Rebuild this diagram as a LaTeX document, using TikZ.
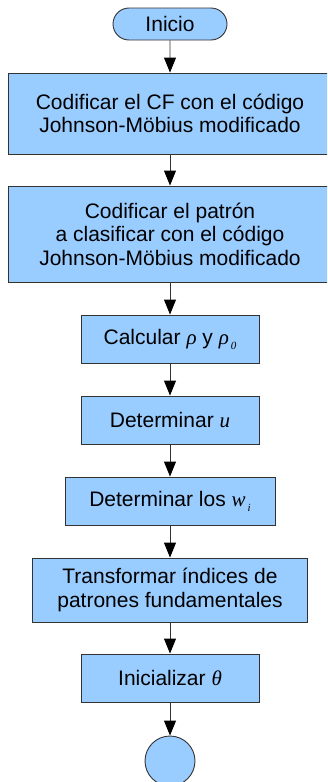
\documentclass[tikz,border=0pt]{standalone}
\usepackage{fontspec}
\setmainfont{Liberation Sans}
\newfontfamily\mserif{Liberation Serif}[ItalicFont={Liberation Serif Italic}]
\usetikzlibrary{arrows.meta,shapes.misc}
\definecolor{boxblue}{HTML}{99CCFF}
\definecolor{edgegray}{HTML}{333333}
\newcommand{\mv}[1]{{\mserif\itshape #1}}
\newcommand{\msub}[2]{{\mserif\itshape #1\kern2pt\raisebox{-5pt}{\fontsize{11}{11}\selectfont #2}}}
\begin{document}
\begin{tikzpicture}[x=1pt,y=-1pt,
  stepbox/.style={draw=edgegray, fill=boxblue, line width=0.9pt, align=center,
    inner sep=0pt, font=\fontsize{21}{23.5}\selectfont},
  term/.style={draw=edgegray, fill=boxblue, line width=0.9pt, rounded rectangle,
    inner sep=0pt, minimum width=114pt, minimum height=32pt, font=\fontsize{21}{23.5}\selectfont},
  flow/.style={-{Triangle[width=12pt,length=15pt,color=black,fill=black]}, line width=0.9pt, draw=edgegray}]
\useasboundingbox (0,0) rectangle (327,782);
\clip (0,0) rectangle (327,782);
\node[term] (ini) at (170,24) {Inicio};
\node[stepbox, minimum width=324pt, minimum height=81pt] (b1) at (170,113.5)
  {Codificar el CF con el código\\Johnson-Möbius modificado};
\node[stepbox, minimum width=324pt, minimum height=96pt] (b2) at (170,234)
  {Codificar el patrón\\a clasificar con el código\\Johnson-Möbius modificado};
\node[stepbox, minimum width=178pt, minimum height=48pt] (b3) at (170,339)
  {Calcular \mv{ρ} y \msub{ρ}{0}};
\node[stepbox, minimum width=178pt, minimum height=48pt] (b4) at (170,420)
  {Determinar \mv{u}};
\node[stepbox, minimum width=210pt, minimum height=48pt] (b5) at (170,501)
  {Determinar los \msub{w}{i}};
\node[stepbox, minimum width=275pt, minimum height=64pt] (b6) at (170,590)
  {Transformar índices de\\patrones fundamentales};
\node[stepbox, minimum width=178pt, minimum height=48pt] (b7) at (170,678)
  {Inicializar \mv{θ}};
\node[draw=edgegray, fill=boxblue, line width=0.9pt, circle, inner sep=0pt, minimum size=50pt] (end) at (170,761) {};
\draw[flow] (ini) -- (b1);
\draw[flow] (b1) -- (b2);
\draw[flow] (b2) -- (b3);
\draw[flow] (b3) -- (b4);
\draw[flow] (b4) -- (b5);
\draw[flow] (b5) -- (b6);
\draw[flow] (b6) -- (b7);
\draw[flow] (b7) -- (end);
\end{tikzpicture}
\end{document}
